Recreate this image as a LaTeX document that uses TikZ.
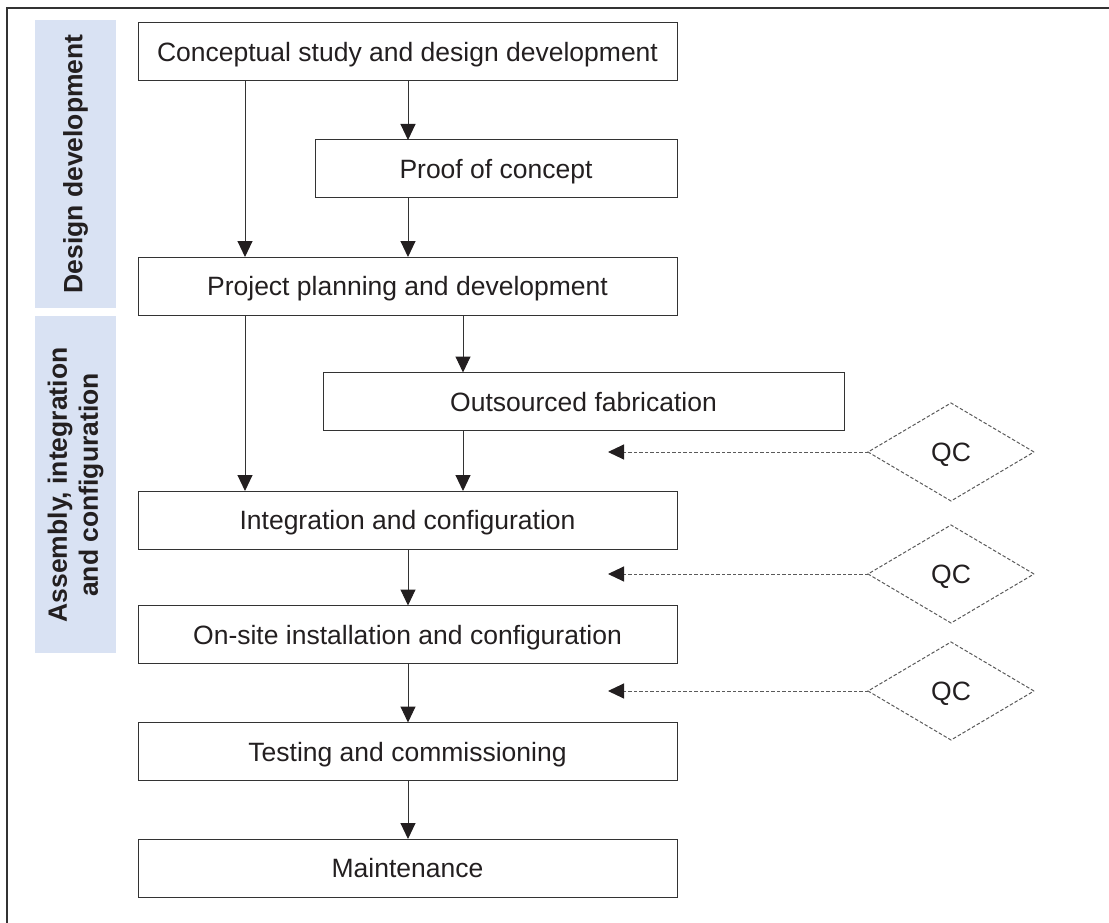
\documentclass[tikz,border=0pt]{standalone}
\usepackage{fontspec}
\setmainfont{Liberation Sans}
\usetikzlibrary{arrows.meta,shapes.geometric}
\definecolor{bandblue}{RGB}{217,226,243}
\definecolor{ink}{RGB}{35,31,32}
\definecolor{edge}{RGB}{51,51,51}
\definecolor{dashgray}{RGB}{90,90,90}
\tikzset{
  stage/.style={draw=edge, line width=1pt, rectangle, inner sep=0pt, outer sep=0pt,
    minimum height=58pt, text height=19pt, text depth=0pt,
    text=ink, font=\fontsize{26.5}{31}\selectfont},
  flow/.style={draw=edge, line width=1pt, -{Triangle[length=16pt,width=15pt,color=ink]}},
  qcbox/.style={diamond, draw=dashgray, dash pattern=on 3.5pt off 2pt, line width=1pt,
    inner sep=0pt, outer sep=0pt, minimum width=166pt, minimum height=98pt,
    text height=19pt, text depth=0pt,
    text=ink, font=\fontsize{26.5}{31}\selectfont},
  qcflow/.style={draw=dashgray, dash pattern=on 3.5pt off 2pt, line width=1pt,
    -{Triangle[length=16pt,width=15pt,color=ink]}},
  band/.style={fill=bandblue, draw=none},
  phase/.style={rotate=90, align=center, text=ink,
    font=\bfseries\fontsize{26.5}{31}\selectfont}
}
\begin{document}
\begin{tikzpicture}[x=1pt,y=-1pt]
\useasboundingbox (0,0) rectangle (1109,923);

% outer frame (top and left edges)
\draw[edge, line width=1.3pt] (1109,8) -- (7,8) -- (7,923);

% phase bands
\fill[band] (35,20) rectangle (116,308);
\fill[band] (35,316) rectangle (116,653);
\node[phase] (ph1) at (75.5,164) {Design development};
\node[phase] (ph2) at (75.5,485) {Assembly, integration\\and configuration};

% process stages
\node[stage, minimum width=539pt] (concept) at (407.5,52) {Conceptual study and design development};
\node[stage, minimum width=362pt] (proof) at (496,169) {Proof of concept};
\node[stage, minimum width=539pt] (plan) at (407.5,286) {Project planning and development};
\node[stage, minimum width=521pt] (fab) at (583.5,401.5) {Outsourced fabrication};
\node[stage, minimum width=539pt] (integ) at (407.5,520) {Integration and configuration};
\node[stage, minimum width=539pt] (onsite) at (407.5,634.5) {On-site installation and configuration};
\node[stage, minimum width=539pt] (test) at (407.5,751.5) {Testing and commissioning};
\node[stage, minimum width=539pt] (maint) at (407.5,868) {Maintenance};

% quality control checkpoints
\node[qcbox] (qc1) at (951,452) {QC};
\node[qcbox] (qc2) at (951,574) {QC};
\node[qcbox] (qc3) at (951,691) {QC};

% connector columns
\coordinate (lx) at (245,0);
\coordinate (mx) at (408,0);
\coordinate (rx) at (463,0);
\coordinate (tipx) at (608,0);

% flow arrows
\draw[flow] (concept.south -| lx) -- (plan.north -| lx);
\draw[flow] (concept.south -| mx) -- (proof.north -| mx);
\draw[flow] (proof.south -| mx) -- (plan.north -| mx);
\draw[flow] (plan.south -| lx) -- (integ.north -| lx);
\draw[flow] (plan.south -| rx) -- (fab.north -| rx);
\draw[flow] (fab.south -| rx) -- (integ.north -| rx);
\draw[flow] (integ.south -| mx) -- (onsite.north -| mx);
\draw[flow] (onsite.south -| mx) -- (test.north -| mx);
\draw[flow] (test.south -| mx) -- (maint.north -| mx);

% QC feedback arrows
\draw[qcflow] (qc1.west) -- (qc1.west -| tipx);
\draw[qcflow] (qc2.west) -- (qc2.west -| tipx);
\draw[qcflow] (qc3.west) -- (qc3.west -| tipx);
\end{tikzpicture}
\end{document}
